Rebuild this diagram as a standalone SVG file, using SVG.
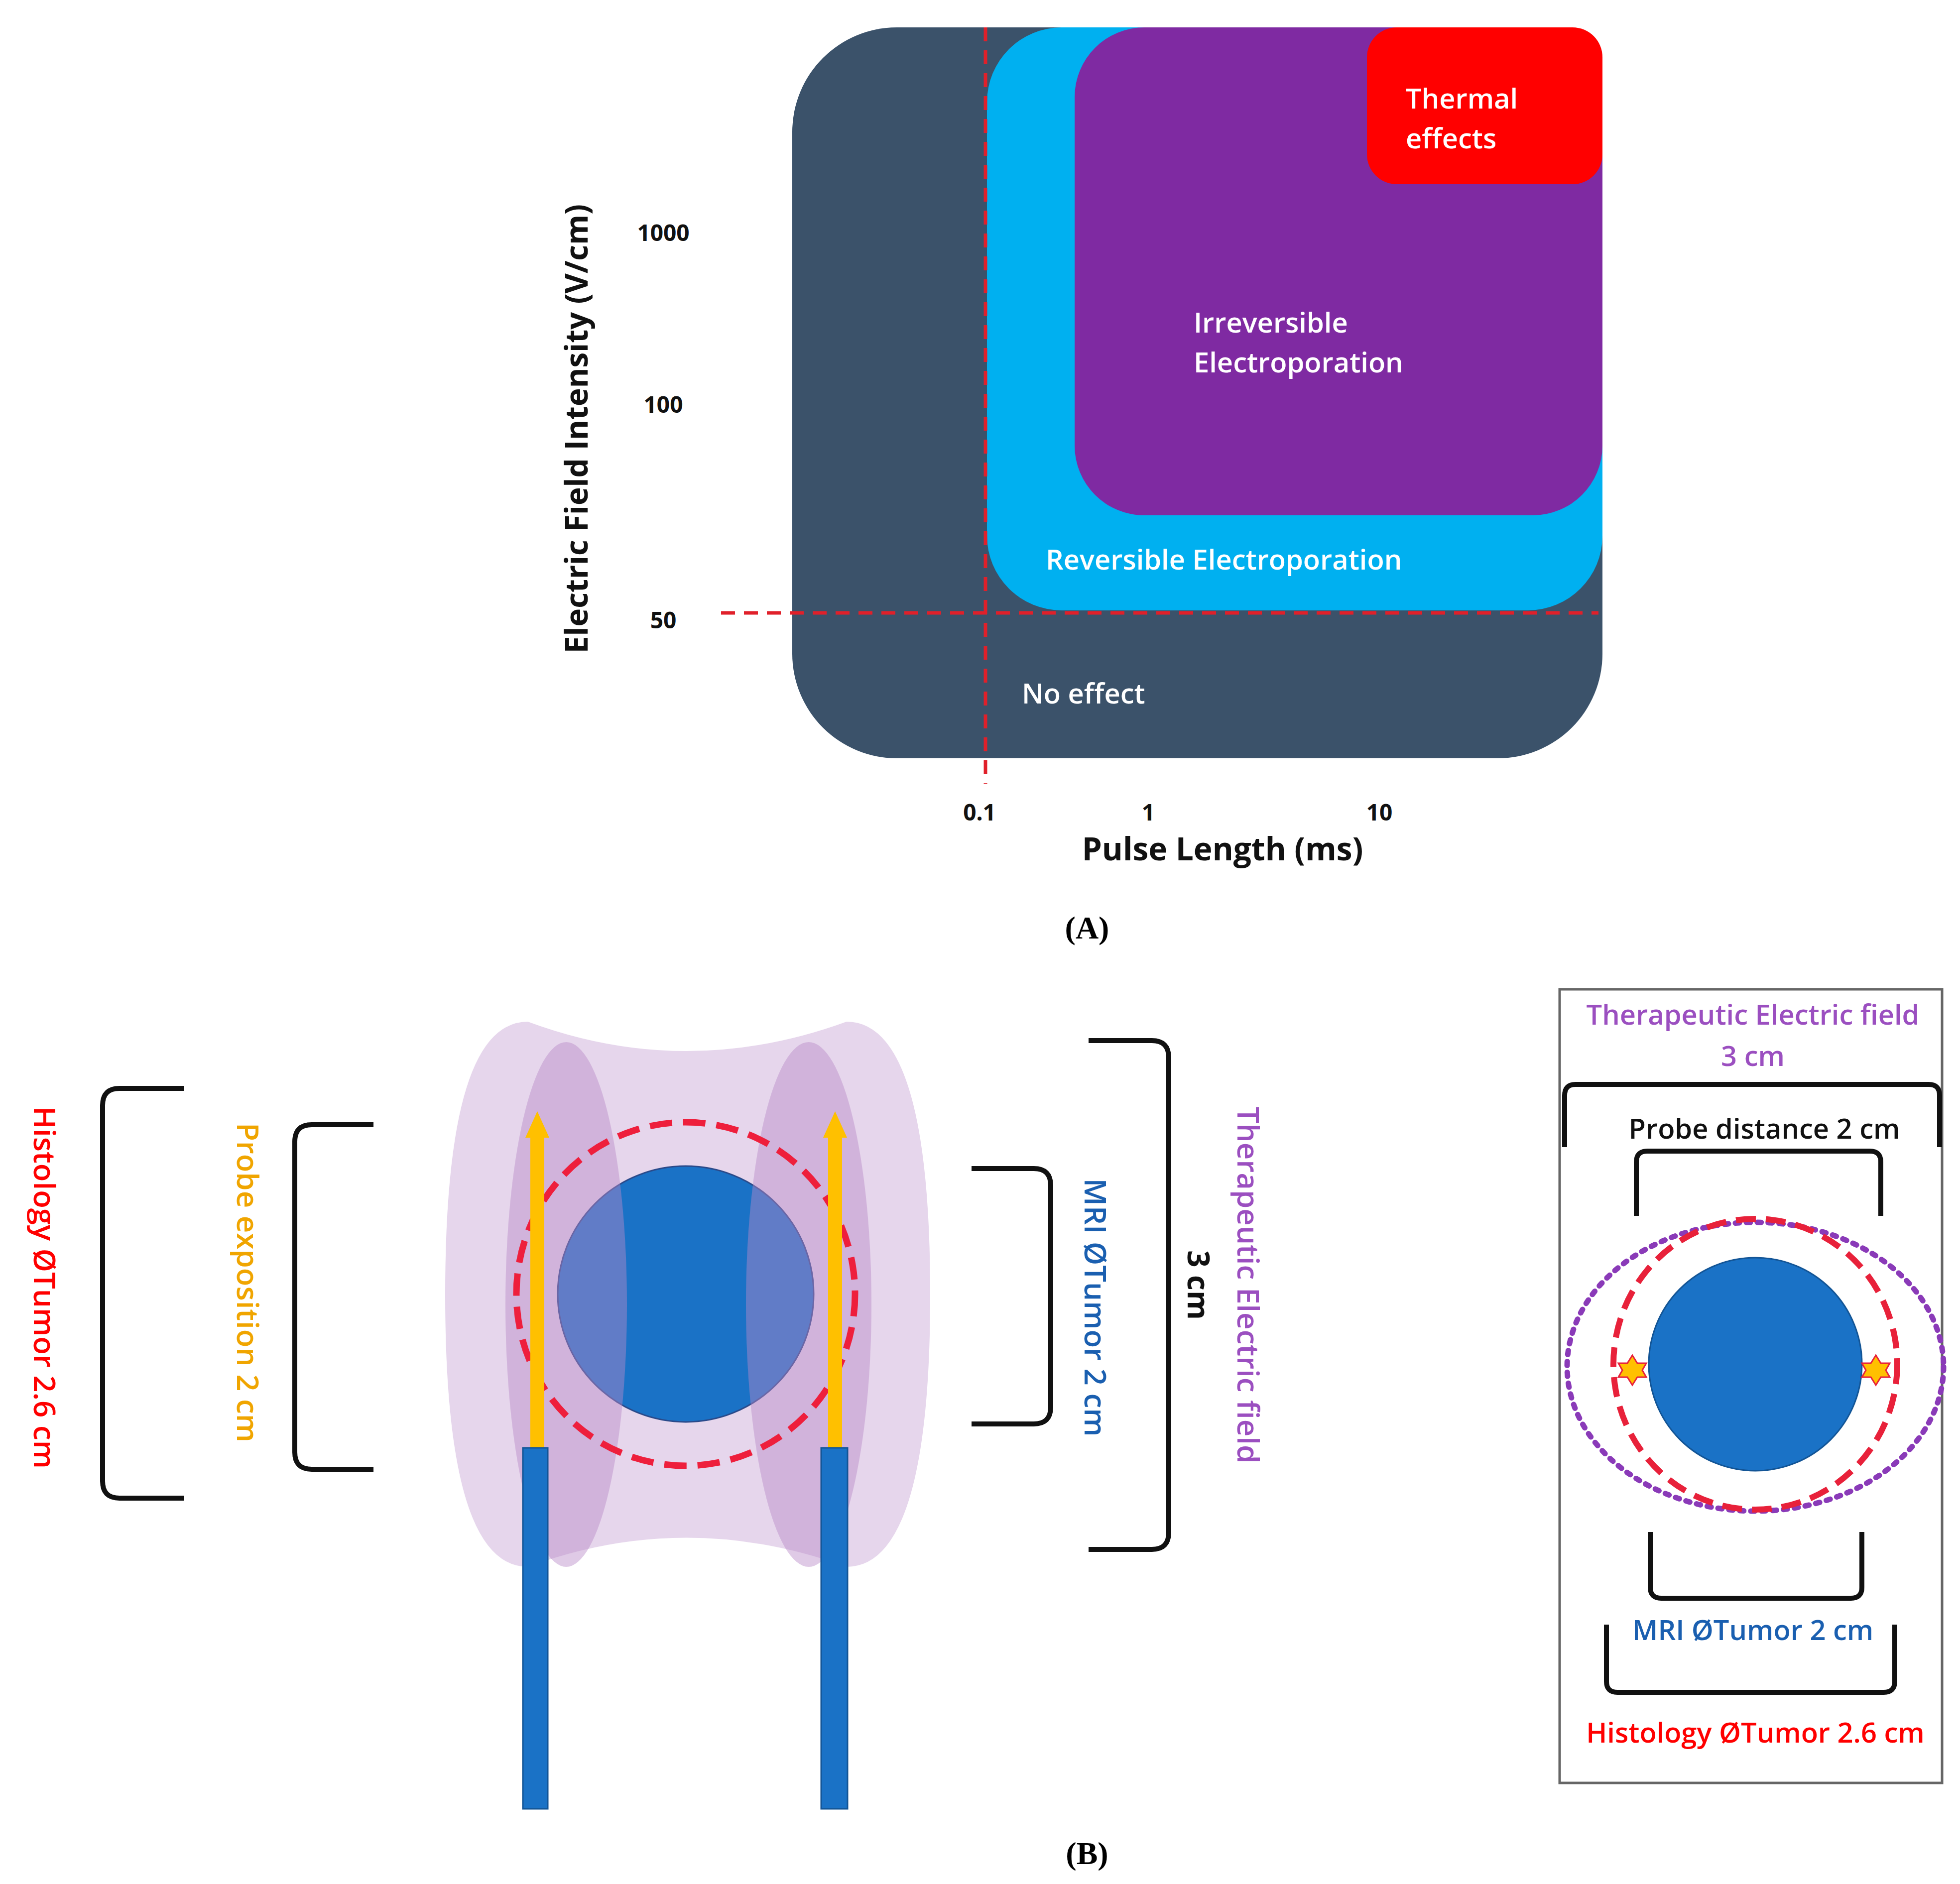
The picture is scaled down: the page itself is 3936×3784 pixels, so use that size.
<svg xmlns="http://www.w3.org/2000/svg" width="3936" height="3784" viewBox="0 0 3936 3784">
<style>
text{font-family:"Open Sans","Liberation Sans",sans-serif;font-weight:600}
.w{fill:#fff;font-size:56px}
.t{font-size:46px;fill:#111;text-anchor:middle;font-weight:700}
.b{fill:none;stroke:#111;stroke-width:10}
.l{font-size:60px}
.m{font-size:56px;text-anchor:middle}
</style>
<rect width="3936" height="3784" fill="#fff"/>
<g id="chartA">
<rect x="1591" y="55" width="1627" height="1468" rx="210" fill="#3b526a"/>
<rect x="1982" y="55" width="1236" height="1171" rx="150" fill="#00b0f0"/>
<rect x="2158" y="55" width="1060" height="980" rx="140" fill="#7f2aa2"/>
<rect x="2745" y="55" width="473" height="315" rx="60" fill="#ff0000"/>
<text class="w" x="2823" y="218">Thermal</text>
<text class="w" x="2823" y="298">effects</text>
<text class="w" x="2397" y="668">Irreversible</text>
<text class="w" x="2397" y="748">Electroporation</text>
<text class="w" x="2100" y="1144">Reversible Electroporation</text>
<text class="w" x="2052" y="1413">No effect</text>
</g>
<g id="axes">
<line x1="1979" y1="55" x2="1979" y2="1574" stroke="#e0202a" stroke-width="7" stroke-dasharray="28,18"/>
<line x1="1448" y1="1231" x2="3210" y2="1231" stroke="#e0202a" stroke-width="7" stroke-dasharray="28,18"/>
<text class="t" x="1332" y="484">1000</text>
<text class="t" x="1332" y="829">100</text>
<text class="t" x="1332" y="1262">50</text>
<text class="t" x="1967" y="1648">0.1</text>
<text class="t" x="2306" y="1648">1</text>
<text class="t" x="2770" y="1648">10</text>
<text x="2455" y="1728" font-size="64" text-anchor="middle" fill="#111" style="font-weight:700">Pulse Length (ms)</text>
<text transform="translate(1180,861) rotate(-90)" font-size="62" text-anchor="middle" fill="#111" style="font-weight:700">Electric Field Intensity (V/cm)</text>
<text x="2183" y="1885" font-size="64" text-anchor="middle" style="font-family:'Liberation Serif',serif;font-weight:700">(A)</text>
</g>
<g id="fieldB">
<path d="M1060,2052 Q1377,2170 1700,2052 Q1868,2052 1868,2600 Q1868,3147 1700,3147 Q1377,3030 1060,3147 Q894,3147 894,2600 Q894,2052 1060,2052 Z" fill="#e6d6ec"/>
<circle cx="1377" cy="2599" r="257" fill="#1a72c6" stroke="#2a4a8a" stroke-width="3"/>
<ellipse cx="1137" cy="2620" rx="122" ry="527" fill="#b98ac8" opacity="0.45"/>
<ellipse cx="1624" cy="2620" rx="126" ry="527" fill="#b98ac8" opacity="0.45"/>
<ellipse cx="1377" cy="2599" rx="340" ry="345" fill="none" stroke="#ee1f3c" stroke-width="13" stroke-dasharray="45,22"/>
</g>
<g id="probes">
<rect x="1065" y="2280" width="28" height="628" fill="#ffc000"/>
<polygon points="1055,2285 1079,2232 1103,2285" fill="#ffc000"/>
<rect x="1050" y="2908" width="50" height="725" fill="#1a72c6" stroke="#135596" stroke-width="3"/>
<rect x="1663" y="2280" width="28" height="628" fill="#ffc000"/>
<polygon points="1653,2285 1677,2232 1701,2285" fill="#ffc000"/>
<rect x="1649" y="2908" width="53" height="725" fill="#1a72c6" stroke="#135596" stroke-width="3"/>
</g>
<g id="bracketsB">
<path class="b" d="M370,2186 H240 Q206,2186 206,2220 V2975 Q206,3009 240,3009 H370"/>
<path class="b" d="M750,2259 H626 Q592,2259 592,2293 V2917 Q592,2951 626,2951 H750"/>
<path class="b" d="M1951,2347 H2076 Q2110,2347 2110,2381 V2826 Q2110,2860 2076,2860 H1951"/>
<path class="b" d="M2186,2090 H2313 Q2347,2090 2347,2124 V3078 Q2347,3112 2313,3112 H2186"/>
<text class="l" transform="translate(68,2586) rotate(90)" text-anchor="middle" fill="#ff0000">Histology ØTumor 2.6 cm</text>
<text class="l" transform="translate(476,2576) rotate(90)" text-anchor="middle" fill="#f0a500">Probe exposition 2 cm</text>
<text class="l" transform="translate(2178,2626) rotate(90)" text-anchor="middle" fill="#1a5fb0">MRI ØTumor  2 cm</text>
<text class="l" transform="translate(2385,2581) rotate(90)" text-anchor="middle" fill="#111" style="font-weight:700">3 cm</text>
<text class="l" transform="translate(2485,2581) rotate(90)" text-anchor="middle" fill="#9b4fc0">Therapeutic Electric field</text>
<text x="2183" y="3744" font-size="64" text-anchor="middle" style="font-family:'Liberation Serif',serif;font-weight:700">(B)</text>
</g>
<g id="panelB">
<rect x="3132" y="1987" width="768" height="1594" fill="#fff" stroke="#666" stroke-width="5"/>
<text class="m" x="3520" y="2058" fill="#9b4fc0">Therapeutic Electric field</text>
<text class="m" x="3520" y="2141" fill="#9b4fc0">3 cm</text>
<path class="b" d="M3142,2304 V2200 Q3142,2178 3164,2178 H3873 Q3895,2178 3895,2200 V2304"/>
<text class="m" x="3543" y="2287" fill="#111">Probe distance 2 cm</text>
<path class="b" d="M3286,2442 V2334 Q3286,2312 3308,2312 H3755 Q3777,2312 3777,2334 V2442"/>
<ellipse cx="3525" cy="2745" rx="378" ry="290" fill="none" stroke="#8a3ab8" stroke-width="11" stroke-dasharray="8,14" stroke-linecap="round"/>
<circle cx="3525" cy="2740" r="214" fill="#1a72c6" stroke="#135596" stroke-width="3"/>
<ellipse cx="3525" cy="2740" rx="285" ry="292" fill="none" stroke="#e8213a" stroke-width="12" stroke-dasharray="40,20"/>
<polygon points="3278,2722 3288,2738 3306,2738 3298,2752 3306,2766 3288,2766 3278,2782 3268,2766 3250,2766 3258,2752 3250,2738 3268,2738" fill="#ffc000" stroke="#e8213a" stroke-width="3"/>
<polygon points="3767,2722 3777,2738 3795,2738 3787,2752 3795,2766 3777,2766 3767,2782 3757,2766 3739,2766 3747,2752 3739,2738 3757,2738" fill="#ffc000" stroke="#e8213a" stroke-width="3"/>
<path class="b" d="M3314,3077 V3188 Q3314,3210 3336,3210 H3717 Q3739,3210 3739,3188 V3077"/>
<text class="m" x="3520" y="3294" fill="#1a5fb0">MRI ØTumor  2 cm</text>
<path class="b" d="M3226,3263 V3377 Q3226,3399 3248,3399 H3783 Q3805,3399 3805,3377 V3263"/>
<text class="m" x="3525" y="3500" fill="#ff0000">Histology ØTumor 2.6 cm</text>
</g>
</svg>
